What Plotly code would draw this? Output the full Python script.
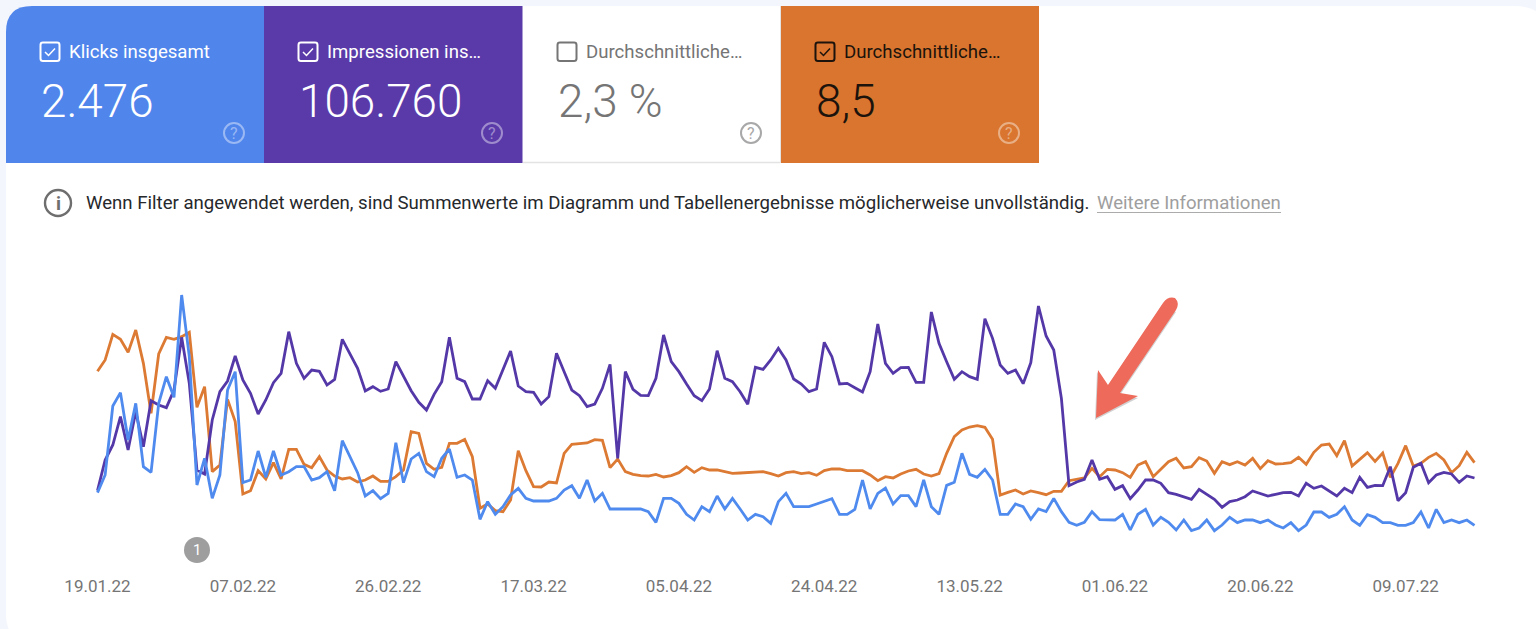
import pandas as pd
import plotly.graph_objects as go

W, H = 1536, 629

tick_labels = ["19.01.22", "07.02.22", "26.02.22", "17.03.22", "05.04.22",
               "24.04.22", "13.05.22", "01.06.22", "20.06.22", "09.07.22"]
card_titles = ["Klicks insgesamt", "Impressionen ins…", "Durchschnittliche…", "Durchschnittliche…"]
card_values = ["2.476", "106.760", "2,3 %", "8,5"]

klicks = [142,195,402,442,300,410,220,203,410,490,428,735,550,165,245,125,195,450,505,172,180,267,188,267,195,205,220,220,180,187,205,148,298,250,202,132,148,124,140,292,172,243,260,205,
          190,245,273,188,195,180,62,115,77,100,135,155,125,117,117,117,125,150,163,125,180,117,140,93,93,93,93,93,85,53,125,125,110,77,60,100,85,132,93,125,93,60,77,70,50,
          115,140,100,100,100,108,117,124,77,77,92,180,93,140,156,108,133,133,100,180,100,77,164,173,260,197,188,212,180,77,77,108,100,62,93,85,125,85,53,44,53,85,61,
          60,60,77,30,77,92,45,68,53,30,60,28,36,60,28,45,68,52,60,60,52,60,45,36,52,28,45,84,84,68,77,100,60,44,76,68,52,52,44,44,52,84,36,92,52,60,52,60,44]
impressionen = [148,240,285,370,270,385,280,418,405,397,450,608,470,210,198,360,445,477,552,480,440,378,420,472,500,625,530,485,510,506,465,482,602,560,515,447,460,446,453,535,493,448,413,390,
                437,475,608,485,475,423,423,478,455,513,567,462,445,443,408,430,560,505,450,433,400,408,455,527,245,505,452,434,433,485,615,535,505,468,433,418,453,568,485,475,445,407,518,512,540,
                575,540,483,468,445,453,593,550,468,470,457,444,505,648,530,500,517,518,473,473,684,590,535,482,505,490,482,664,605,525,500,510,469,532,702,612,570,425,163,174,182,240,182,
                190,152,163,124,150,180,180,170,142,137,130,122,152,137,122,98,115,120,130,147,140,132,137,142,143,132,170,155,162,148,132,155,142,188,158,164,163,220,118,142,218,230,172,195,203,198,173,192,186]
position = [506,540,617,602,563,630,530,380,558,608,602,610,623,398,460,205,225,422,355,138,148,208,183,232,183,272,272,227,217,250,210,192,183,187,174,180,192,176,176,190,210,325,320,230,
            212,218,290,290,302,250,95,108,88,85,120,268,208,160,159,174,171,260,287,290,291,301,299,217,243,205,197,193,192,197,189,193,202,220,203,217,210,210,205,200,201,203,204,205,199,
            192,202,205,199,202,194,208,213,213,208,209,208,195,178,190,186,198,207,212,198,192,199,260,310,330,339,343,338,302,135,143,150,138,147,142,136,146,146,178,181,186,215,190,
            212,210,202,188,225,235,190,212,235,245,216,220,247,237,200,235,226,235,225,245,214,238,228,229,232,248,227,263,285,288,253,298,222,242,262,236,261,188,230,283,222,230,248,260,240,202,223,263,232]

BLUE, PURPLE, ORANGE = "#5085ec", "#5a3aa9", "#d9752e"
LINE_BLUE, LINE_PURPLE, LINE_ORANGE = "#4f8aee", "#5438a8", "#dc7a33"
FONT = "Roboto"

dates = pd.date_range("2022-01-19", periods=len(klicks))
PX_PER_DAY = 7.65
X0 = 97.5
start = pd.Timestamp("2022-01-19")
x_lo = start + pd.Timedelta(days=-X0 / PX_PER_DAY)
x_hi = start + pd.Timedelta(days=(W - X0) / PX_PER_DAY)
tickvals = [start + pd.Timedelta(days=19 * i) for i in range(len(tick_labels))]


def X(p):
    return p / W


def Y(p):
    return 1 - p / H


def path(points, close=True):
    d = "M" + " L".join(f"{X(a):.5f},{Y(b):.5f}" for a, b in points)
    return d + (" Z" if close else "")


def rrect(x0, y0, x1, y1, tl=0, tr=0, br=0, bl=0):
    f = lambda a, b: f"{X(a):.5f},{Y(b):.5f}"
    return (f"M{f(x0 + tl, y0)} L{f(x1 - tr, y0)} Q{f(x1, y0)} {f(x1, y0 + tr)} "
            f"L{f(x1, y1 - br)} Q{f(x1, y1)} {f(x1 - br, y1)} "
            f"L{f(x0 + bl, y1)} Q{f(x0, y1)} {f(x0, y1 - bl)} "
            f"L{f(x0, y0 + tl)} Q{f(x0, y0)} {f(x0 + tl, y0)} Z")


def circle(cx, cy, r, **kw):
    return dict(type="circle", xref="paper", yref="paper", x0=X(cx - r), x1=X(cx + r),
                y0=Y(cy + r), y1=Y(cy - r), **kw)


def pshape(d, fill=None, line=None, width=0, layer="below", opacity=1):
    return dict(type="path", xref="paper", yref="paper", path=d, fillcolor=fill or "rgba(0,0,0,0)",
                line=dict(color=line or "rgba(0,0,0,0)", width=width), layer=layer, opacity=opacity)


def text(x, y, s, size, color, anchor="left", weight="normal"):
    return dict(x=X(x), y=Y(y), xref="paper", yref="paper", text=s, showarrow=False, xanchor=anchor,
                yanchor="middle", borderpad=0, borderwidth=0,
                font=dict(family=FONT, size=size, color=color, weight=weight))


shapes, annos = [], []

# white panel
shapes.append(pshape(rrect(6, 6, 1550, 645, 32, 36, 36, 32), fill="#ffffff"))

# metric cards
cards = [
    dict(x0=6, x1=264, bx=40.5, bg=BLUE, fg="#ffffff", box="#ffffff", help="rgba(255,255,255,0.42)", tl=26),
    dict(x0=264, x1=522.5, bx=298.5, bg=PURPLE, fg="#ffffff", box="#ffffff", help="rgba(255,255,255,0.42)", tl=0),
    dict(x0=523, x1=780, bx=557.5, bg="#ffffff", fg="#757575", box="#757575", help="#a8a8a8", tl=0),
    dict(x0=781, x1=1039, bx=815.5, bg=ORANGE, fg="#1b130c", box="#1b130c", help="rgba(255,255,255,0.42)", tl=0),
]
for i, c in enumerate(cards):
    shapes.append(pshape(rrect(c["x0"], 6, c["x1"], 163, tl=c["tl"]), fill=c["bg"]))
    bx = c["bx"]
    shapes.append(pshape(rrect(bx, 42.5, bx + 19, 61, 2.5, 2.5, 2.5, 2.5), line=c["box"], width=2))
    if i != 2:
        shapes.append(pshape(path([(bx + 4.5, 52), (bx + 8, 55.5), (bx + 14.5, 48.5)], close=False),
                             line=c["box"], width=1.5))
    annos.append(text(bx + 28.5, 52, card_titles[i], 18.6, c["fg"]))
    annos.append(text(bx + 0.5, 101, card_values[i], 45.8, c["fg"], weight=300))
    hx = c["x0"] + 228
    shapes.append(circle(hx, 133, 10, line=dict(color=c["help"], width=2), fillcolor="rgba(0,0,0,0)", layer="below"))
    annos.append(text(hx, 133, "?", 16, c["help"], "center"))
# thin rule under white card
shapes.append(dict(type="line", xref="paper", yref="paper", x0=X(523), x1=X(780), y0=Y(162.5), y1=Y(162.5),
                   line=dict(color="#e3e3e3", width=1.5), layer="below"))
shapes.append(dict(type="line", xref="paper", yref="paper", x0=X(780.5), x1=X(780.5), y0=Y(6), y1=Y(163),
                   line=dict(color="#e3e3e3", width=1), layer="below"))

# info line
shapes.append(circle(58, 203, 13, line=dict(color="#6e6e6e", width=2.4), fillcolor="#ffffff", layer="below"))
annos.append(text(58, 203.5, "<b>i</b>", 19, "#6e6e6e", "center"))
annos.append(text(86, 203.5, "Wenn Filter angewendet werden, sind Summenwerte im Diagramm und Tabellenergebnisse möglicherweise unvollständig.", 18.6, "#26282b"))
annos.append(text(1097, 203.5, "Weitere Informationen", 18.6, "#9e9e9e"))
shapes.append(dict(type="line", xref="paper", yref="paper", x0=X(1097), x1=X(1281), y0=Y(212.5), y1=Y(212.5),
                   line=dict(color="#ababab", width=1.2), layer="below"))

# event marker
shapes.append(circle(197, 550, 13, line=dict(width=0), fillcolor="#9e9e9e", layer="below"))
annos.append(text(197, 550, "1", 15, "#ffffff", "center"))

# arrow with a soft shadow
arrow_pts = [(1096, 418), (1098, 370), (1108, 385), (1163, 303)]
arrow_d = ("M" + " L".join(f"{X(a):.5f},{Y(b):.5f}" for a, b in arrow_pts)
           + f" Q{X(1168):.5f},{Y(296):.5f} {X(1175):.5f},{Y(298):.5f}"
           + f" Q{X(1180):.5f},{Y(303):.5f} {X(1176):.5f},{Y(310):.5f}"
           + f" L{X(1120):.5f},{Y(393):.5f} L{X(1138):.5f},{Y(396):.5f} Z")
shadow_d = ("M" + " L".join(f"{X(a - 1):.5f},{Y(b + 2):.5f}" for a, b in arrow_pts)
            + f" L{X(1176):.5f},{Y(312):.5f} L{X(1120):.5f},{Y(395):.5f} L{X(1138):.5f},{Y(398):.5f} Z")
shapes.append(pshape(shadow_d, fill="rgba(90,90,90,0.28)", layer="above"))
shapes.append(pshape(arrow_d, fill="#ee6a5a", layer="above"))

fig = go.Figure()
for name, vals, col in [("Durchschnittliche Position", position, LINE_ORANGE),
                        ("Impressionen insgesamt", impressionen, LINE_PURPLE),
                        ("Klicks insgesamt", klicks, LINE_BLUE)]:
    fig.add_trace(go.Scatter(x=dates, y=vals, mode="lines", name=name,
                             line=dict(color=col, width=2.8, shape="linear"), hoverinfo="x+name"))

fig.update_layout(
    width=W, height=H, margin=dict(l=0, r=0, t=0, b=0), autosize=False,
    paper_bgcolor="#f3f6fc", plot_bgcolor="rgba(0,0,0,0)", showlegend=False,
    font=dict(family=FONT),
    xaxis=dict(type="date", domain=[0, 1], range=[x_lo, x_hi], tickmode="array", tickvals=tickvals,
               ticktext=tick_labels, showgrid=False, zeroline=False, showline=False, ticks="outside",
               ticklen=31, tickcolor="rgba(0,0,0,0)", tickfont=dict(family=FONT, size=17, color="#757575")),
    yaxis=dict(domain=[Y(540), Y(280)], range=[0, 780], visible=False, fixedrange=True),
    shapes=shapes, annotations=annos,
)
fig.write_html("out.html", config={"displayModeBar": False},
               post_script="document.body.style.margin='0';document.body.style.overflow='hidden';")
